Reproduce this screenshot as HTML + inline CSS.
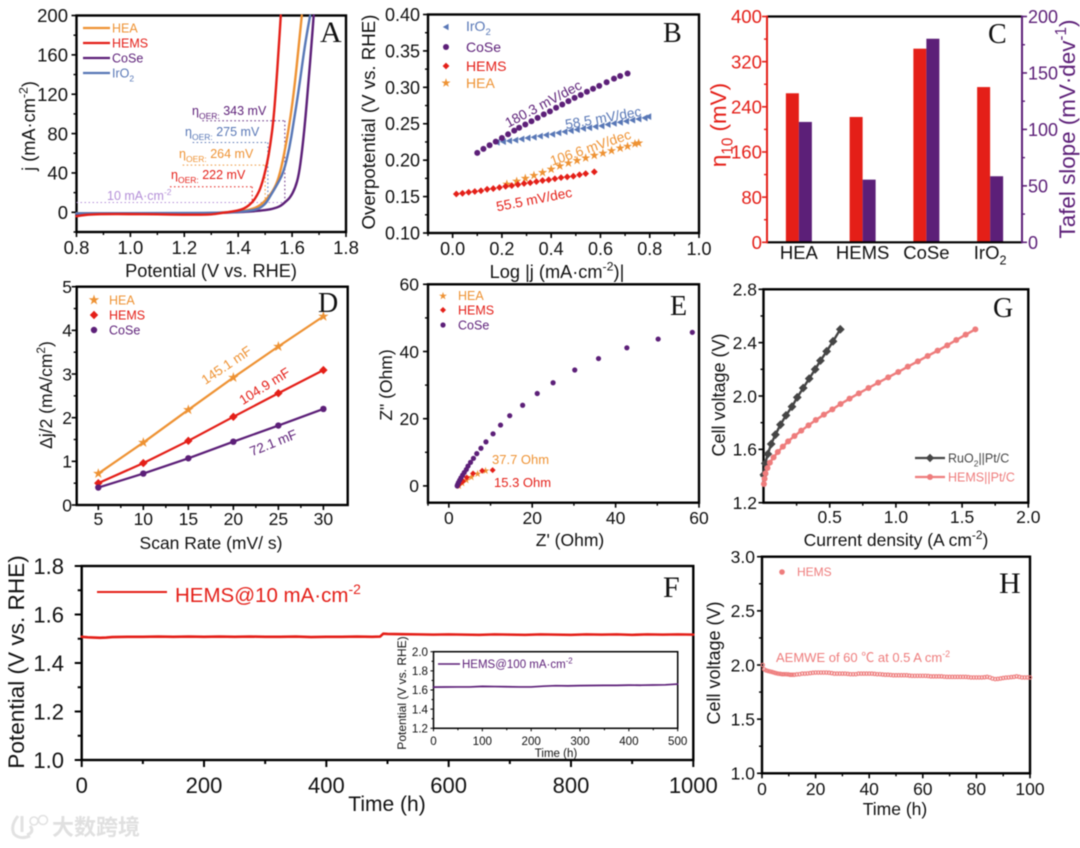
<!DOCTYPE html>
<html lang="en">
<head>
<meta charset="utf-8">
<title>Electrocatalyst performance figure</title>
<style>
html,body{margin:0;padding:0;background:#fff;}
#figure{display:block;width:1080px;height:848px;filter:blur(0.5px);}
text{font-family:"Liberation Sans","Noto Sans CJK SC",sans-serif;}
</style>
</head>
<body>
<svg id="figure" xmlns="http://www.w3.org/2000/svg" width="1080" height="848" viewBox="0 0 1080 848">
  <g>
    <path d="M18 816 Q10 826 14 834 Q20 840 30 836 M22 816 L22 832 M30 826 Q35 832 27 835" fill="none" stroke="#e2e2e2" stroke-width="3"/>
    <circle cx="34" cy="821" r="4" fill="none" stroke="#e2e2e2" stroke-width="1.6"/>
    <circle cx="43" cy="820" r="4.5" fill="none" stroke="#e2e2e2" stroke-width="1.6"/>
    <text x="52" y="835" font-size="22" font-weight="700" fill="#e0e0e0" style="font-family:'Noto Sans CJK SC','Liberation Sans',sans-serif">大数跨境</text>
  </g>
</svg>
<script>
// ---------- colours ----------
var RED='#e41f18', ORANGE='#ee9233', PURPLE='#5c1f78', BLUE='#5877b6', PINK='#ee7c7c', DARK='#454545', LILAC='#b48fd8';

// ---------- Panel A data ----------
var aXTicks=[0.8,1.0,1.2,1.4,1.6,1.8];
var aXMinor=[0.9,1.1,1.3,1.5,1.7];
var aYTicks=[0,40,80,120,160,200];
var aYMinor=[-20,20,60,100,140,180];
var aHeaV=[0.8,1,1.2,1.3,1.36,1.41,1.45,1.475,1.494,1.51,1.53,1.55,1.57,1.593,1.61,1.625,1.636];
var aHeaJ=[-1,-1,-1,-0.8,0,1,3,6,10,15,22,34,58,94,130,170,200];
var aIrV=[0.8,1,1.2,1.3,1.38,1.43,1.47,1.49,1.505,1.52,1.54,1.568,1.59,1.605,1.625,1.645,1.657,1.667];
var aIrJ=[-1,-0.8,-0.8,-0.6,0,1,3,6,10,17,26,40,65,90,125,165,185,200];
var aCoV=[0.8,1,1.2,1.3,1.4,1.48,1.52,1.545,1.56,1.573,1.593,1.612,1.625,1.637,1.649,1.66,1.672,1.68];
var aCoJ=[-1.5,-1,-1,-0.8,0,1.5,3,5,7,10,15,25,38,62,94,130,170,200];
var aHemsV=[0.8,0.82,0.85,0.9,1,1.1,1.2,1.3,1.34,1.38,1.41,1.43,1.452,1.47,1.485,1.506,1.52,1.531,1.54,1.55,1.558];
var aHemsJ=[-4,-3,-2.2,-1.8,-1.8,-2,-2.5,-2.4,-0.5,0.8,2.5,5,10,17,26,47,70,94,125,165,200];

// ---------- Panel B data ----------
var bXTicks=[0,0.2,0.4,0.6,0.8,1.0];
var bXMinor=[-0.1,0.1,0.3,0.5,0.7,0.9];
var bYTicks=[0.10,0.15,0.20,0.25,0.30,0.35,0.40];
var bYMinor=[0.125,0.175,0.225,0.275,0.325,0.375];
var bCoX=[.10,.125,.15,.175,.20,.225,.25,.27,.295,.32,.345,.37,.395,.42,.445,.47,.495,.52,.545,.57,.595,.625,.655,.68,.71];
var bCoY=[.21,.2155,.2205,.2255,.2305,.2355,.2405,.2445,.249,.2535,.258,.2628,.267,.272,.2765,.281,.2855,.2895,.294,.298,.302,.307,.312,.3155,.319];
var bIrX=[.18,.205,.23,.255,.28,.305,.33,.355,.38,.405,.43,.455,.48,.505,.53,.555,.58,.605,.63,.655,.68,.705,.73,.755,.78,.795];
var bIrY=[.2245,.2255,.2265,.2275,.229,.2305,.2315,.233,.2345,.2355,.2375,.239,.2405,.242,.2435,.2445,.246,.247,.249,.2505,.252,.2535,.255,.2565,.258,.2598];
var bHeaX=[.22,.26,.295,.33,.365,.40,.435,.47,.505,.54,.575,.61,.645,.68,.71,.74,.755];
var bHeaY=[.167,.171,.175,.179,.183,.1875,.192,.196,.1995,.203,.2065,.2095,.213,.2165,.219,.2225,.2235];
var bHemsX=[.015,.04,.065,.09,.115,.14,.165,.19,.215,.24,.265,.29,.315,.34,.365,.39,.415,.44,.465,.49,.515,.54,.575];
var bHemsY=[.1535,.1545,.156,.157,.158,.16,.161,.1625,.164,.165,.1665,.168,.169,.1705,.172,.173,.1745,.176,.177,.178,.18,.1815,.184];

// ---------- Panel C data ----------
var cCategories=['HEA','HEMS','CoSe','IrO_{2}'];
var cEta=[264,222,343,275];
var cTafel=[106.6,55.5,180.3,58.5];
var cLeftTicks=[0,80,160,240,320,400];
var cLeftMinor=[40,120,200,280,360];
var cRightTicks=[0,50,100,150,200];
var cRightMinor=[25,75,125,175];

// ---------- Panel D data ----------
var dScan=[5,10,15,20,25,30];
var dHea=[0.72,1.43,2.18,2.92,3.63,4.32];
var dHems=[0.5,0.96,1.47,2.02,2.56,3.09];
var dCose=[0.4,0.72,1.07,1.45,1.82,2.2];
var dYTicks=[0,1,2,3,4,5];
var dYMinor=[0.5,1.5,2.5,3.5,4.5];
var dXMinor=[7.5,12.5,17.5,22.5,27.5];

// ---------- Panel E data ----------
var eTicks=[0,20,40,60];
var eMinor=[-5,10,30,50];
var eCoX=[58.4,50.2,42.7,35.9,30.2,25,21.2,17.7,14.6,12.4,10.6,8.9,7.7,6.7,5.9,5.2,4.6,4.2,3.7,3.3,2.9,2.6,2.3,2.1,2];
var eCoY=[45.7,43.7,41.1,37.9,34.5,30.7,27.5,24,20.9,18.1,15.5,13.1,11.2,9.6,8.2,7,5.9,4.9,4,3.2,2.4,1.7,1,0.4,0];
var eHemsX=[10.5,8,5.8,4.3,3.4,2.6,2.2];
var eHemsY=[4.7,4.5,3.7,2.5,1.4,0.6,0];
var eHeaX=[8.8,6.9,5.4,4.2,3.2,2.4];
var eHeaY=[4.5,3.6,2.6,1.7,0.8,0];

// ---------- Panel G data ----------
var gXTicks=[0.5,1.0,1.5,2.0];
var gXMinor=[0.25,0.75,1.25,1.75];
var gYTicks=[1.2,1.6,2.0,2.4,2.8];
var gYMinor=[1.4,1.8,2.2,2.6];
var gRuX=[.58,.525,.477,.43,.39,.345,.30,.255,.215,.17,.128,.09,.058,.033,.013,.003];
var gRuY=[2.5,2.41,2.335,2.265,2.2,2.13,2.06,1.99,1.92,1.855,1.785,1.71,1.64,1.565,1.495,1.41];
var gHemsX=[1.6,1.527,1.456,1.388,1.315,1.24,1.166,1.09,1.018,.942,.866,.793,.72,.65,.582,.52,.456,.395,.34,.285,.234,.186,.146,.108,.076,.048,.03,.015,.008,.003];
var gHemsY=[2.5,2.46,2.42,2.38,2.34,2.3,2.26,2.22,2.18,2.14,2.1,2.06,2.02,1.98,1.94,1.9,1.86,1.82,1.78,1.74,1.7,1.66,1.62,1.58,1.54,1.5,1.46,1.42,1.38,1.34];

// ---------- Panel F data ----------
var fXTicks=[0,200,400,600,800,1000];
var fXMinor=[100,300,500,700,900];
var fYTicks=[1.0,1.2,1.4,1.6,1.8];
var fYMinor=[1.1,1.3,1.5,1.7];
var fTime=[0,10,20,30,40,50,75,100,125,150,175,200,225,250,275,300,325,350,375,400,425,450,475,488,493,500,525,550,575,600,625,650,675,700,725,750,775,800,825,850,875,900,925,950,975,1000];
var fVolt=[1.508,1.506,1.505,1.504,1.505,1.507,1.508,1.508,1.509,1.508,1.509,1.508,1.509,1.508,1.509,1.508,1.508,1.509,1.507,1.508,1.508,1.509,1.508,1.509,1.521,1.52,1.519,1.518,1.517,1.518,1.517,1.516,1.518,1.517,1.516,1.518,1.517,1.516,1.518,1.517,1.518,1.516,1.518,1.517,1.518,1.517];

// ---------- Panel F inset data ----------
var iXTicks=[0,100,200,300,400,500];
var iXMinor=[50,150,250,350,450];
var iYTicks=[1.2,1.4,1.6,1.8,2.0];
var iYMinor=[1.3,1.5,1.7,1.9];
var iTime=[0,25,50,75,100,125,150,175,200,225,250,275,300,325,350,375,400,425,450,475,500];
var iVolt=[1.63,1.631,1.632,1.632,1.638,1.636,1.634,1.632,1.632,1.64,1.645,1.643,1.646,1.647,1.648,1.648,1.651,1.65,1.652,1.654,1.662];

// ---------- Panel H data ----------
var hXTicks=[0,20,40,60,80,100];
var hXMinor=[10,30,50,70,90];
var hYTicks=[1.0,1.5,2.0,2.5,3.0];
var hYMinor=[1.25,1.75,2.25,2.75];
var hTime=[0.3,0.8,1.5,2.2,3,3.8,4.5,5.2,6,6.8,7.5,8.2,9,9.8,10.5,11.2,12,13,14,15,16,17,18,19,20,21,22,23,24,25,26,27,28,29,30,31,32,33,34,35,36,37,38,39,40,41,42,43,44,45,46,47,48,49,50,51,52,53,54,55,56,57,58,59,60,61,62,63,64,65,66,67,68,69,70,71,72,73,74,75,76,77,78,79,80,81,82,83,84,85,86,87,88,89,90,91,92,93,94,95,96,97,98,99,100];
var hVolt=[2.0,1.96,1.95,1.945,1.94,1.935,1.93,1.925,1.92,1.918,1.915,1.915,1.915,1.913,1.91,1.91,1.91,1.913,1.915,1.92,1.92,1.922,1.925,1.928,1.93,1.93,1.93,1.93,1.93,1.928,1.925,1.92,1.92,1.92,1.92,1.92,1.918,1.915,1.915,1.915,1.92,1.92,1.92,1.92,1.92,1.92,1.918,1.915,1.915,1.912,1.91,1.91,1.908,1.905,1.905,1.905,1.905,1.905,1.905,1.902,1.9,1.9,1.9,1.9,1.9,1.9,1.898,1.895,1.895,1.895,1.895,1.895,1.892,1.89,1.89,1.89,1.89,1.89,1.89,1.89,1.89,1.888,1.885,1.885,1.885,1.885,1.885,1.887,1.89,1.885,1.875,1.87,1.872,1.875,1.88,1.883,1.885,1.888,1.89,1.895,1.89,1.885,1.885,1.885,1.885];

// ---------- drawing helpers ----------
var SVGNS='http://www.w3.org/2000/svg';
var root=document.getElementById('figure');

function mk(tag,parent,name){
  var el=document.createElementNS(SVGNS,tag);
  
  
  parent.appendChild(el);
  return el;
}
function panel(name){
  return mk('g',root,name);
}
function seg(p,x1,y1,x2,y2,color,w,name){
  var l=mk('line',p,name);
  l.setAttribute('x1',x1);l.setAttribute('y1',y1);l.setAttribute('x2',x2);l.setAttribute('y2',y2);
  l.setAttribute('stroke',color);l.setAttribute('stroke-width',w);
  return l;
}
function dotted(p,x1,y1,x2,y2,color,name){
  var l=seg(p,x1,y1,x2,y2,color,1,name);
  l.setAttribute('stroke-dasharray','1.5 2.5');
  return l;
}
function label(p,str,x,y,size,color,anchor,rot,name,family){
  var t=mk('text',p,name);
  t.setAttribute('x',x);t.setAttribute('y',y);t.setAttribute('font-size',size);
  t.setAttribute('fill',color);t.setAttribute('text-anchor',anchor||'start');
  if(family)t.style.fontFamily=family;
  if(rot)t.setAttribute('transform','rotate('+rot+' '+x+' '+y+')');
  var parts=str.split(/([_^]\{[^}]*\})/);
  var pending=0;
  parts.forEach(function(s){
    if(!s)return;
    var ts=document.createElementNS(SVGNS,'tspan');
    var m=s.match(/^([_^])\{([^}]*)\}$/);
    if(m){
      var d=(m[1]==='_'?0.3:-0.4)*size;
      ts.setAttribute('dy',pending+d);
      ts.setAttribute('font-size',size*0.68);
      ts.textContent=m[2];
      pending=-d;
    }else{
      if(pending)ts.setAttribute('dy',pending);
      ts.textContent=s;
      pending=0;
    }
    t.appendChild(ts);
  });
  return t;
}
function curve(p,xs,ys,sx,sy,color,w,name){
  var pl=mk('polyline',p,name);
  pl.setAttribute('points',xs.map(function(v,i){return sx(v)+','+sy(ys[i]);}).join(' '));
  pl.setAttribute('fill','none');pl.setAttribute('stroke',color);pl.setAttribute('stroke-width',w);
  pl.setAttribute('stroke-linejoin','round');pl.setAttribute('stroke-linecap','round');
  return pl;
}
function smooth(p,xs,ys,sx,sy,color,w,name){
  var path=mk('path',p,name);
  var d='M'+sx(xs[0])+' '+sy(ys[0]);
  for(var i=1;i<xs.length-1;i++){
    var mx=(sx(xs[i])+sx(xs[i+1]))/2, my=(sy(ys[i])+sy(ys[i+1]))/2;
    d+=' Q'+sx(xs[i])+' '+sy(ys[i])+' '+mx+' '+my;
  }
  d+=' L'+sx(xs[xs.length-1])+' '+sy(ys[ys.length-1]);
  path.setAttribute('d',d);
  path.setAttribute('fill','none');path.setAttribute('stroke',color);path.setAttribute('stroke-width',w);
  path.setAttribute('stroke-linecap','round');
  return path;
}
function marker(p,type,cx,cy,s,color,name){
  var el,pts=[],i,a,r;
  if(type==='circle'||type==='open'){
    el=mk('circle',p,name);
    el.setAttribute('cx',cx);el.setAttribute('cy',cy);el.setAttribute('r',s);
    if(type==='open'){el.setAttribute('fill','none');el.setAttribute('stroke',color);el.setAttribute('stroke-width',1.1);}
    else{el.setAttribute('fill',color);}
    return el;
  }
  if(type==='star'){
    for(i=0;i<10;i++){a=-Math.PI/2+i*Math.PI/5;r=i%2?s*0.42:s*1.1;pts.push((cx+r*Math.cos(a))+','+(cy+r*Math.sin(a)));}
  }else if(type==='diamond'){
    pts=[cx+','+(cy-s),(cx+s)+','+cy,cx+','+(cy+s),(cx-s)+','+cy];
  }else if(type==='left'){
    pts=[(cx-s)+','+cy,(cx+s*0.8)+','+(cy-s),(cx+s*0.8)+','+(cy+s)];
  }
  el=mk('polygon',p,name);
  el.setAttribute('points',pts.join(' '));
  el.setAttribute('fill',color);
  return el;
}
function scatter(p,type,xs,ys,sx,sy,s,color,name){
  xs.forEach(function(v,i){marker(p,type,sx(v),sy(ys[i]),s,color,name);});
}
function scale(d0,d1,r0,r1){
  return function(v){return r0+(v-d0)/(d1-d0)*(r1-r0);};
}
function fmt(v,digits){return v.toFixed(digits);}

// generic framed axes
function axes(p,o){
  var sx=scale(o.xd[0],o.xd[1],o.L,o.R), sy=scale(o.yd[0],o.yd[1],o.B,o.T);
  var w=o.w||2.4, maj=o.maj||5, min=o.min||3;
  var f=mk('rect',p,'plot-frame');
  f.setAttribute('x',o.L);f.setAttribute('y',o.T);f.setAttribute('width',o.R-o.L);f.setAttribute('height',o.B-o.T);
  f.setAttribute('fill','none');f.setAttribute('stroke','#000');f.setAttribute('stroke-width',w);
  o.xt.forEach(function(v){
    seg(p,sx(v),o.B,sx(v),o.B+maj,'#000',o.tw||1.6,'x-tick');
    label(p,fmt(v,o.xdig),sx(v),o.xLabelY,o.fs,'#111','middle',0,'x-tick-label');
  });
  o.xm.forEach(function(v){seg(p,sx(v),o.B,sx(v),o.B+min,'#000',o.tw||1.4,'x-minor-tick');});
  o.yt.forEach(function(v){
    seg(p,o.L-maj,sy(v),o.L,sy(v),'#000',o.tw||1.6,'y-tick');
    label(p,fmt(v,o.ydig),o.yLabelX,sy(v)+o.fs*0.36,o.fs,'#111','end',0,'y-tick-label');
  });
  o.ym.forEach(function(v){seg(p,o.L-min,sy(v),o.L,sy(v),'#000',o.tw||1.4,'y-minor-tick');});
  return {x:sx,y:sy};
}
var SERIF='"Liberation Serif",serif';

// ---------- Panel A ----------
(function(){
  var p=panel('panel-a-polarization');
  var a=axes(p,{L:76.5,R:346,T:15.5,B:232,xd:[0.8,1.8],yd:[-20,200],xt:aXTicks,xm:aXMinor,yt:aYTicks,ym:aYMinor,xdig:1,ydig:0,fs:18.5,xLabelY:254,yLabelX:68});
  var x=a.x,y=a.y;
  dotted(p,x(0.8),y(10),x(1.573),y(10),LILAC,'ten-ma-guide');
  dotted(p,x(1.147),y(26),x(1.452),y(26),RED,'hems-guide-h');
  dotted(p,x(1.452),y(26),x(1.452),y(10),RED,'hems-guide-v');
  dotted(p,x(1.194),y(48),x(1.5),y(48),ORANGE,'hea-guide-h');
  dotted(p,x(1.5),y(48),x(1.5),y(10),ORANGE,'hea-guide-v');
  dotted(p,x(1.231),y(71),x(1.51),y(71),BLUE,'iro2-guide-h');
  dotted(p,x(1.51),y(71),x(1.51),y(10),BLUE,'iro2-guide-v');
  dotted(p,x(1.267),y(93),x(1.573),y(93),PURPLE,'cose-guide-h');
  dotted(p,x(1.573),y(93),x(1.573),y(10),PURPLE,'cose-guide-v');
  smooth(p,aCoV,aCoJ,x,y,PURPLE,2.4,'cose-curve');
  smooth(p,aHeaV,aHeaJ,x,y,ORANGE,2.4,'hea-curve');
  smooth(p,aIrV,aIrJ,x,y,BLUE,2.4,'iro2-curve');
  smooth(p,aHemsV,aHemsJ,x,y,RED,2.4,'hems-curve');
  [['HEA',ORANGE,28],['HEMS',RED,43],['CoSe',PURPLE,58],['IrO_{2}',BLUE,73]].forEach(function(e){
    seg(p,83,e[2],110,e[2],e[1],2.2,'legend-line');
    label(p,e[0],112,e[2]+4.5,12.5,e[1],'start',0,'legend-label');
  });
  label(p,'η_{OER:} 343 mV',192,115,12.5,PURPLE,'start',0,'cose-overpotential-label');
  label(p,'η_{OER:} 275 mV',185,136,12.5,BLUE,'start',0,'iro2-overpotential-label');
  label(p,'η_{OER:} 264 mV',179,158,12.5,ORANGE,'start',0,'hea-overpotential-label');
  label(p,'η_{OER:} 222 mV',171,179,12.5,RED,'start',0,'hems-overpotential-label');
  label(p,'10 mA·cm^{-2}',107,200,12.5,LILAC,'start',0,'ten-ma-label');
  label(p,'A',320,42,30,'#111','start',0,'panel-letter-a',SERIF);
  label(p,'Potential (V vs. RHE)',211,277,18.2,'#111','middle',0,'x-axis-title');
  label(p,'j (mA·cm^{-2})',35,126,18.2,'#111','middle',-90,'y-axis-title');
})();

// ---------- Panel B ----------
(function(){
  var p=panel('panel-b-tafel');
  var a=axes(p,{L:428,R:699,T:14.5,B:233,xd:[-0.1,1.0],yd:[0.10,0.40],xt:bXTicks,xm:bXMinor,yt:bYTicks,ym:bYMinor,xdig:1,ydig:2,fs:18,xLabelY:255,yLabelX:420});
  var x=a.x,y=a.y;
  scatter(p,'left',bIrX,bIrY,x,y,3.4,BLUE,'iro2-point');
  scatter(p,'circle',bCoX,bCoY,x,y,3,PURPLE,'cose-point');
  scatter(p,'star',bHeaX,bHeaY,x,y,4.4,ORANGE,'hea-point');
  scatter(p,'diamond',bHemsX,bHemsY,x,y,3.4,RED,'hems-point');
  marker(p,'left',446,27,3.2,BLUE,'legend-marker-iro2');
  marker(p,'circle',446,47,3,PURPLE,'legend-marker-cose');
  marker(p,'diamond',446,66,3.4,RED,'legend-marker-hems');
  marker(p,'star',446,83,4.4,ORANGE,'legend-marker-hea');
  label(p,'IrO_{2}',466,31,14,BLUE,'start',0,'legend-label-iro2');
  label(p,'CoSe',466,52,14,PURPLE,'start',0,'legend-label-cose');
  label(p,'HEMS',466,71,14,RED,'start',0,'legend-label-hems');
  label(p,'HEA',466,88,14,ORANGE,'start',0,'legend-label-hea');
  label(p,'180.3 mV/dec',545.5,108,13.7,PURPLE,'middle',-28,'cose-slope-label');
  label(p,'58.5 mV/dec',604,122.5,13.7,BLUE,'middle',-10,'iro2-slope-label');
  label(p,'106.6 mV/dec',592,152,13.7,ORANGE,'middle',-19,'hea-slope-label');
  label(p,'55.5 mV/dec',535,204,13.7,RED,'middle',-11,'hems-slope-label');
  label(p,'B',663,42,28,'#111','start',0,'panel-letter-b',SERIF);
  label(p,'Log |j (mA·cm^{-2})|',557,278,18.2,'#111','middle',0,'x-axis-title');
  label(p,'Overpotential (V vs. RHE)',375,122,18.7,'#111','middle',-90,'y-axis-title');
})();

// ---------- Panel C ----------
(function(){
  var p=panel('panel-c-bars');
  var L=767,R=1022,T=16.5,B=242.3;
  var step=(R-L)/cCategories.length, bw=13;
  var yL=scale(0,400,B,T), yR=scale(0,200,B,T);
  cCategories.forEach(function(c,i){
    var cx=L+step*(i+0.5);
    var r=mk('rect',p,'eta-bar-'+i);
    r.setAttribute('x',cx-bw);r.setAttribute('y',yL(cEta[i]));r.setAttribute('width',bw);r.setAttribute('height',B-yL(cEta[i]));r.setAttribute('fill',RED);
    var q=mk('rect',p,'tafel-bar-'+i);
    q.setAttribute('x',cx);q.setAttribute('y',yR(cTafel[i]));q.setAttribute('width',bw);q.setAttribute('height',B-yR(cTafel[i]));q.setAttribute('fill',PURPLE);
    label(p,c,cx,259,18.5,'#111','middle',0,'category-label');
  });
  seg(p,L,T,R,T,'#000',2.2,'top-axis');
  seg(p,L,B,R,B,'#000',2.2,'bottom-axis');
  seg(p,L,T-1,L,B+1,RED,2,'left-axis');
  seg(p,R,T-1,R,B+1,PURPLE,2,'right-axis');
  cLeftTicks.forEach(function(v){
    seg(p,L-5,yL(v),L,yL(v),RED,1.6,'left-tick');
    label(p,String(v),762,yL(v)+6.7,18.6,RED,'end',0,'left-tick-label');
  });
  cLeftMinor.forEach(function(v){seg(p,L-3,yL(v),L,yL(v),RED,1.4,'left-minor-tick');});
  cRightTicks.forEach(function(v){
    seg(p,R,yR(v),R+5,yR(v),PURPLE,1.6,'right-tick');
    label(p,String(v),1028,yR(v)+6.5,18,PURPLE,'start',0,'right-tick-label');
  });
  cRightMinor.forEach(function(v){seg(p,R,yR(v),R+3,yR(v),PURPLE,1.4,'right-minor-tick');});
  label(p,'C',988,43,28,'#111','start',0,'panel-letter-c',SERIF);
  label(p,'η_{10} (mV)',726,125,22.4,RED,'middle',-90,'left-axis-title');
  label(p,'Tafel slope (mV·dev^{-1})',1075,129,22.4,PURPLE,'middle',-90,'right-axis-title');
})();

// ---------- Panel D ----------
(function(){
  var p=panel('panel-d-capacitance');
  var a=axes(p,{L:76.7,R:347.7,T:286.7,B:505,xd:[2.6,32.7],yd:[0,5],xt:dScan,xm:dXMinor,yt:dYTicks,ym:dYMinor,xdig:0,ydig:0,fs:17.5,xLabelY:525,yLabelX:72});
  var x=a.x,y=a.y;
  curve(p,dScan,dHea,x,y,ORANGE,2.2,'hea-line');
  curve(p,dScan,dHems,x,y,RED,2.2,'hems-line');
  curve(p,dScan,dCose,x,y,PURPLE,2.2,'cose-line');
  scatter(p,'star',dScan,dHea,x,y,5,ORANGE,'hea-point');
  scatter(p,'diamond',dScan,dHems,x,y,4.2,RED,'hems-point');
  scatter(p,'circle',dScan,dCose,x,y,3.2,PURPLE,'cose-point');
  marker(p,'star',94,300,5,ORANGE,'legend-marker-hea');
  marker(p,'diamond',94,315,4.2,RED,'legend-marker-hems');
  marker(p,'circle',94,330,3.2,PURPLE,'legend-marker-cose');
  label(p,'HEA',109,304.5,12.5,ORANGE,'start',0,'legend-label-hea');
  label(p,'HEMS',109,319.5,12.5,RED,'start',0,'legend-label-hems');
  label(p,'CoSe',109,334.5,12.5,PURPLE,'start',0,'legend-label-cose');
  label(p,'145.1 mF',229,369,13.5,ORANGE,'middle',-34,'hea-capacitance-label');
  label(p,'104.9 mF',267,390,13.5,RED,'middle',-32,'hems-capacitance-label');
  label(p,'72.1 mF',275,447,13.5,PURPLE,'middle',-22,'cose-capacitance-label');
  label(p,'D',318,312,28,'#111','start',0,'panel-letter-d',SERIF);
  label(p,'Scan Rate (mV/ s)',211,549,17.5,'#111','middle',0,'x-axis-title');
  label(p,'Δj/2 (mA/cm^{2})',52,395,17.5,'#111','middle',-90,'y-axis-title');
})();

// ---------- Panel E ----------
(function(){
  var p=panel('panel-e-nyquist');
  var a=axes(p,{L:428,R:699,T:284.3,B:502.7,xd:[-5,60],yd:[-5,60],xt:eTicks,xm:eMinor,yt:eTicks,ym:eMinor.slice(1),xdig:0,ydig:0,fs:17.5,xLabelY:524,yLabelX:419});
  var x=a.x,y=a.y;
  scatter(p,'star',eHeaX,eHeaY,x,y,3.6,ORANGE,'hea-point');
  scatter(p,'diamond',eHemsX,eHemsY,x,y,3,RED,'hems-point');
  scatter(p,'circle',eCoX,eCoY,x,y,2.6,PURPLE,'cose-point');
  marker(p,'star',443,296,3.8,ORANGE,'legend-marker-hea');
  marker(p,'diamond',443,310,3,RED,'legend-marker-hems');
  marker(p,'circle',443,325,2.6,PURPLE,'legend-marker-cose');
  label(p,'HEA',458,300,12.5,ORANGE,'start',0,'legend-label-hea');
  label(p,'HEMS',458,314.5,12.5,RED,'start',0,'legend-label-hems');
  label(p,'CoSe',458,329.5,12.5,PURPLE,'start',0,'legend-label-cose');
  label(p,'37.7 Ohm',492,464,13,ORANGE,'start',0,'hea-resistance-label');
  label(p,'15.3 Ohm',494,487,13,RED,'start',0,'hems-resistance-label');
  label(p,'E',670,315,28,'#111','start',0,'panel-letter-e',SERIF);
  label(p,"Z' (Ohm)",570,546,17.5,'#111','middle',0,'x-axis-title');
  label(p,'Z" (Ohm)',392,385,17.5,'#111','middle',-90,'y-axis-title');
})();

// ---------- Panel G ----------
(function(){
  var p=panel('panel-g-cell-voltage');
  var a=axes(p,{L:763.5,R:1028.3,T:289.3,B:502.7,xd:[0,2],yd:[1.2,2.8],xt:gXTicks,xm:gXMinor,yt:gYTicks,ym:gYMinor,xdig:1,ydig:1,fs:17.5,xLabelY:523,yLabelX:757});
  var x=a.x,y=a.y;
  curve(p,gRuX,gRuY,x,y,DARK,2.4,'ruo2-line');
  curve(p,gHemsX,gHemsY,x,y,PINK,2.4,'hems-line');
  scatter(p,'diamond',gRuX,gRuY,x,y,4.4,DARK,'ruo2-point');
  scatter(p,'circle',gHemsX,gHemsY,x,y,3,PINK,'hems-point');
  seg(p,915,458,945,458,DARK,2.2,'legend-line-ruo2');
  marker(p,'diamond',930,458,4.2,DARK,'legend-marker-ruo2');
  seg(p,915,477,945,477,PINK,2.2,'legend-line-hems');
  marker(p,'circle',930,477,3,PINK,'legend-marker-hems');
  label(p,'RuO_{2}||Pt/C',948,462.5,12.5,DARK,'start',0,'legend-label-ruo2');
  label(p,'HEMS||Pt/C',948,481.5,12.5,PINK,'start',0,'legend-label-hems');
  label(p,'G',993,317,28,'#111','start',0,'panel-letter-g',SERIF);
  label(p,'Current density (A cm^{-2})',896,546,17.5,'#111','middle',0,'x-axis-title');
  label(p,'Cell voltage (V)',725,395,18,'#111','middle',-90,'y-axis-title');
})();

// ---------- Panel F ----------
(function(){
  var p=panel('panel-f-stability');
  var a=axes(p,{L:81.7,R:693.3,T:566,B:760,xd:[0,1000],yd:[1.0,1.8],xt:fXTicks,xm:fXMinor,yt:fYTicks,ym:fYMinor,xdig:0,ydig:1,fs:22,xLabelY:793,yLabelX:64,maj:7,min:4,tw:2});
  curve(p,fTime,fVolt,a.x,a.y,RED,2.6,'stability-line');
  seg(p,97,592,167,592,RED,2,'legend-line');
  label(p,'HEMS@10 mA·cm^{-2}',175,602,20.5,RED,'start',0,'legend-label');
  label(p,'F',663,597,30,'#111','start',0,'panel-letter-f',SERIF);
  label(p,'Time (h)',387,811,21,'#111','middle',0,'x-axis-title');
  label(p,'Potential (V vs. RHE)',24,662,22.6,'#111','middle',-90,'y-axis-title');
  var q=mk('g',p,'inset-chart');
  var b=axes(q,{L:433.5,R:677.7,T:651.7,B:728.3,xd:[0,500],yd:[1.2,2.0],xt:iXTicks,xm:iXMinor,yt:iYTicks,ym:iYMinor,xdig:0,ydig:1,fs:11.6,xLabelY:745,yLabelX:428,w:1.5,maj:3,min:2,tw:1});
  curve(q,iTime,iVolt,b.x,b.y,PURPLE,1.7,'inset-line');
  seg(q,438,664,460,664,PURPLE,1.5,'inset-legend-line');
  label(q,'HEMS@100 mA·cm^{-2}',462,668,11.5,PURPLE,'start',0,'inset-legend-label');
  label(q,'Time (h)',556,757,11.5,'#111','middle',0,'inset-x-axis-title');
  label(q,'Potential (V vs. RHE)',406,693,12,'#111','middle',-90,'inset-y-axis-title');
})();

// ---------- Panel H ----------
(function(){
  var p=panel('panel-h-electrolyzer');
  var a=axes(p,{L:762,R:1030,T:556.7,B:773.3,xd:[0,100],yd:[1.0,3.0],xt:hXTicks,xm:hXMinor,yt:hYTicks,ym:hYMinor,xdig:0,ydig:1,fs:17.5,xLabelY:795,yLabelX:755});
  scatter(p,'open',hTime,hVolt,a.x,a.y,1.7,PINK,'stability-point');
  marker(p,'circle',782,572,2.8,PINK,'legend-marker');
  label(p,'HEMS',797,576,12,PINK,'start',0,'legend-label');
  label(p,'AEMWE of 60 ℃ at 0.5 A cm^{-2}',776,662,13,PINK,'start',0,'conditions-label');
  label(p,'H',999,593,30,'#111','start',0,'panel-letter-h',SERIF);
  label(p,'Time (h)',895,815,17.5,'#111','middle',0,'x-axis-title');
  label(p,'Cell voltage (V)',720,663,18,'#111','middle',-90,'y-axis-title');
})();
</script>
</body>
</html>
